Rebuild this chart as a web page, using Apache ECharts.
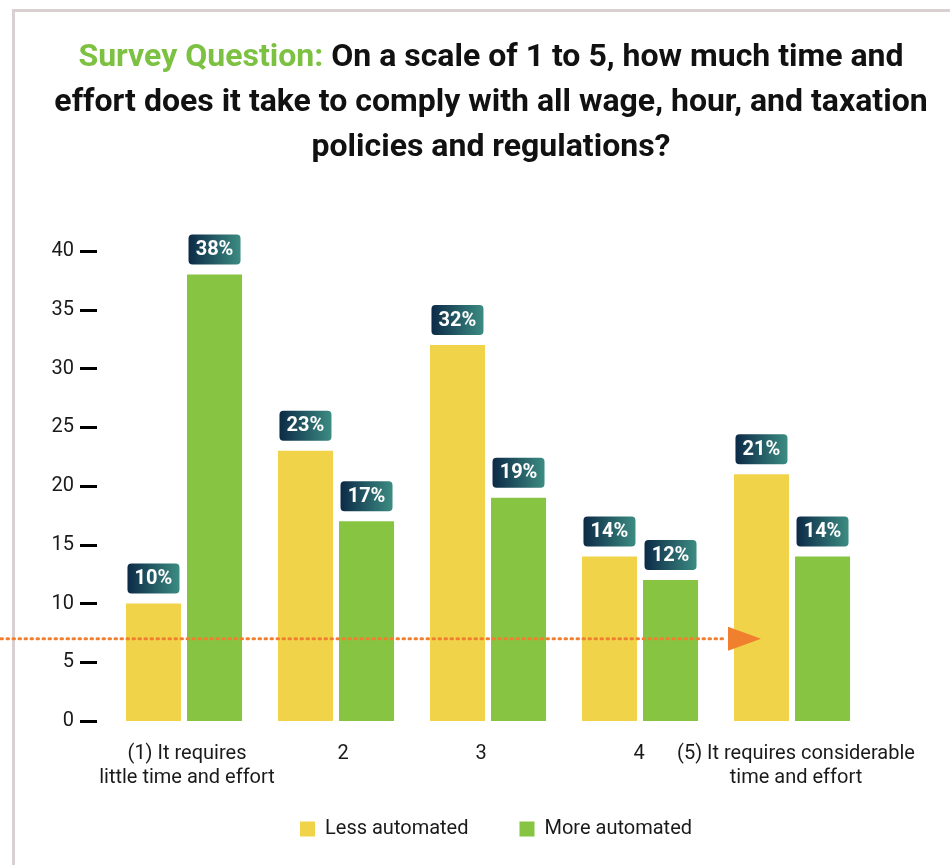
<!DOCTYPE html>
<html>
<head>
<meta charset="utf-8">
<script src="https://cdn.jsdelivr.net/npm/echarts@6/dist/echarts.min.js"></script>
<style>
  html, body { margin: 0; padding: 0; background: #ffffff; }
  #frame {
    position: absolute; left: 12px; top: 9px; width: 938px; height: 856px;
    border-top: 3px solid #d9d0d1; border-left: 3px solid #d9d0d1;
  }
  #chart { position: absolute; left: 0; top: 0; width: 950px; height: 865px; }
</style>
</head>
<body>
<div id="frame"></div>
<div id="chart"></div>
<script>
// Response categories (1 = little effort ... 5 = considerable effort)
const categories = [
  '(1) It requires\nlittle time and effort',
  '2',
  '3',
  '4',
  '(5) It requires considerable\ntime and effort'
];
// Share of respondents (%) per group
const lessAutomated = [10, 23, 32, 14, 21];
const moreAutomated = [38, 17, 19, 12, 14];
const seriesNames = ['Less automated', 'More automated'];
// Dotted reference level
const referenceLevel = 7;

// Small horizontal nudges for the category labels (px, + = right)
const labelNudge = [3, 7, -7, -1, 4];
const categoryItems = categories.map((c, i) => {
  const n = labelNudge[i];
  return {
    value: c,
    textStyle: { padding: n >= 0 ? [0, 0, 0, 2 * n] : [0, -2 * n, 0, 0] }
  };
});

const labelBox = {
  show: true,
  position: 'top',
  distance: 10,
  formatter: '{c}%',
  color: '#ffffff',
  fontFamily: 'Roboto',
  fontWeight: 'bold',
  fontSize: 20,
  lineHeight: 21,
  width: 44,
  align: 'center',
  padding: [5, 4, 4, 4],
  borderRadius: 4,
  backgroundColor: new echarts.graphic.LinearGradient(0, 0, 1, 0, [
    { offset: 0, color: '#0c2a47' },
    { offset: 1, color: '#3c8c82' }
  ])
};

const chart = echarts.init(document.getElementById('chart'), null, { renderer: 'canvas' });

chart.setOption({
  animation: false,
  title: {
    left: 486,
    textAlign: 'center',
    top: 30,
    text: '{g|Survey Question:} {b|On a scale of 1 to 5, how much time and}\n{b|effort does it take to comply with all wage, hour, and taxation}\n{b|policies and regulations?}',
    textStyle: {
      fontFamily: 'Roboto',
      fontWeight: 'bold',
      fontSize: 32,
      lineHeight: 45,
      rich: {
        g: { color: '#7dc142', fontFamily: 'Roboto', fontWeight: 'bold', fontSize: 32, lineHeight: 45 },
        b: { color: '#111111', fontFamily: 'Roboto', fontWeight: 'bold', fontSize: 32, lineHeight: 45 }
      }
    }
  },
  legend: {
    data: seriesNames,
    left: 295,
    top: 814,
    itemWidth: 15,
    itemHeight: 15,
    itemGap: 51,
    icon: 'rect',
    textStyle: { fontFamily: 'Roboto', fontSize: 20, color: '#1a1a1a', padding: [0, 0, 0, 5] }
  },
  grid: { left: 108, right: 82, top: 251, bottom: 144, containLabel: false },
  xAxis: {
    type: 'category',
    data: categoryItems,
    axisLine: { show: false },
    axisTick: { show: false },
    axisLabel: {
      margin: 21,
      fontFamily: 'Roboto',
      fontSize: 20,
      lineHeight: 24,
      color: '#1a1a1a',
      interval: 0
    }
  },
  yAxis: {
    type: 'value',
    min: 0,
    max: 40,
    interval: 5,
    offset: 11,
    splitLine: { show: false },
    axisLine: { show: false },
    axisTick: { show: true, length: 17, lineStyle: { color: '#000000', width: 3 } },
    axisLabel: { margin: 23, fontFamily: 'Roboto', fontSize: 20, color: '#1a1a1a' }
  },
  series: [
    {
      name: seriesNames[0],
      type: 'bar',
      data: lessAutomated,
      barWidth: 55,
      barGap: '11%',
      itemStyle: { color: '#f0d349' },
      label: labelBox
    },
    {
      name: seriesNames[1],
      type: 'bar',
      data: moreAutomated,
      barWidth: 55,
      barGap: '11%',
      itemStyle: { color: '#86c442' },
      label: labelBox
    }
  ]
});

// Dotted arrow at the reference level, ending just before the last category
const yRef = chart.convertToPixel({ yAxisIndex: 0 }, referenceLevel);
const xLast = chart.convertToPixel({ xAxisIndex: 0 }, 4);
const tipX = xLast - 31;
const baseX = tipX - 33;
chart.setOption({
  graphic: [
    {
      type: 'line',
      z: 10,
      shape: { x1: 1, y1: yRef, x2: baseX - 3, y2: yRef },
      style: { stroke: '#f0802f', lineWidth: 3, lineDash: [1.5, 4.5], lineCap: 'round' }
    },
    {
      type: 'polygon',
      z: 10,
      shape: { points: [[baseX, yRef - 12], [tipX, yRef], [baseX, yRef + 12]] },
      style: { fill: '#f07f2e' }
    }
  ]
});
</script>
</body>
</html>
